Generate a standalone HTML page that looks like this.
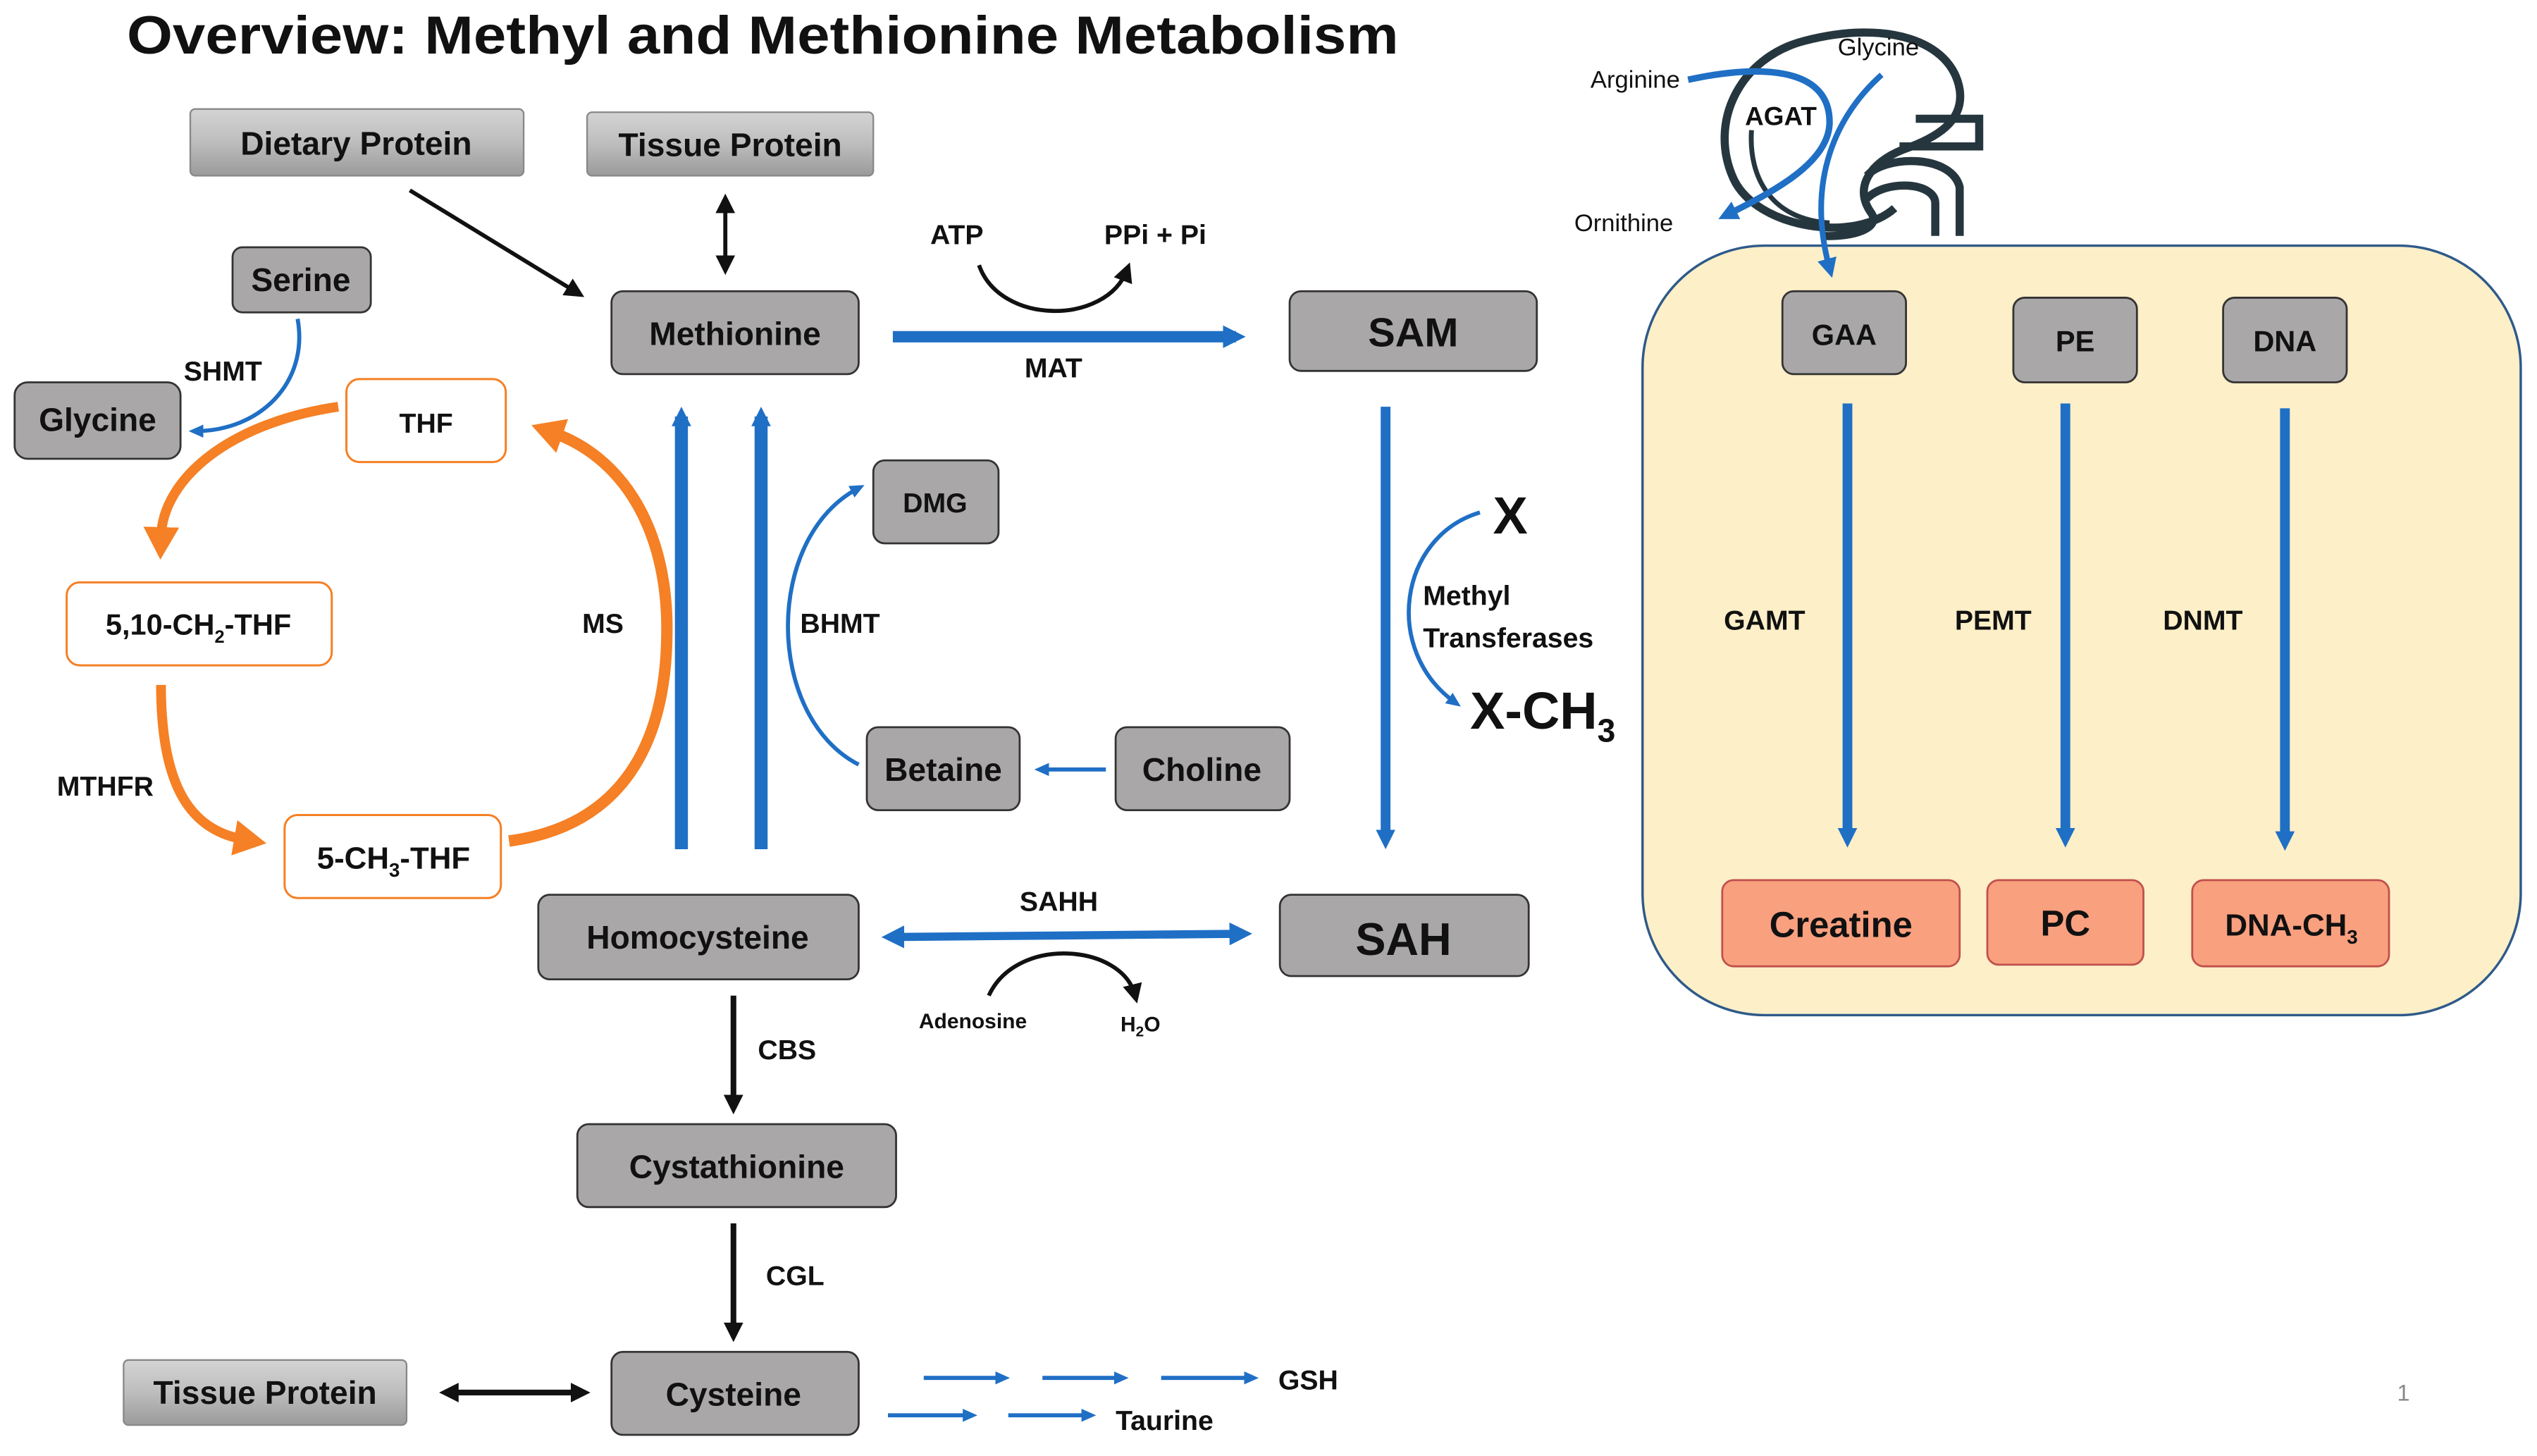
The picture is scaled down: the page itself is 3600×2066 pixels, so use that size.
<!DOCTYPE html>
<html><head><meta charset="utf-8"><style>
html,body{margin:0;padding:0;background:#fff}
svg{display:block}
text{font-family:"Liberation Sans",sans-serif;font-weight:bold;fill:#111}
</style></head><body>
<svg width="3600" height="2066" viewBox="0 0 1560 895" preserveAspectRatio="none" xmlns="http://www.w3.org/2000/svg">
<defs>
<linearGradient id="g" x1="0" y1="0" x2="0" y2="1"><stop offset="0" stop-color="#d4d4d4"/><stop offset="0.5" stop-color="#bdbdbd"/><stop offset="1" stop-color="#9a9a9a"/></linearGradient>
<marker id="bh" markerWidth="14" markerHeight="16" refX="8" refY="8" orient="auto-start-reverse" markerUnits="userSpaceOnUse"><path d="M0,1 L14,8 L0,15 Z" fill="#1f6fc5"/></marker>
<marker id="bhm" markerWidth="12" markerHeight="14" refX="6" refY="7" orient="auto-start-reverse" markerUnits="userSpaceOnUse"><path d="M0,1 L12,7 L0,13 Z" fill="#1f6fc5"/></marker>
<marker id="bhs" markerWidth="10" markerHeight="10" refX="5" refY="5" orient="auto" markerUnits="userSpaceOnUse"><path d="M0,1 L9,5 L0,9 Z" fill="#1f6fc5"/></marker>
<marker id="kh" markerWidth="12" markerHeight="12" refX="7" refY="6" orient="auto-start-reverse" markerUnits="userSpaceOnUse"><path d="M0,0 L12,6 L0,12 Z" fill="#111"/></marker>
<marker id="oh" markerWidth="20" markerHeight="22" refX="6" refY="11" orient="auto" markerUnits="userSpaceOnUse"><path d="M0,0 L20,11 L0,22 Z" fill="#f58025"/></marker>
</defs>

<text x="78" y="33" font-size="33" textLength="782" lengthAdjust="spacingAndGlyphs">Overview: Methyl and Methionine Metabolism</text>

<rect x="1010" y="151" width="540" height="473" rx="75" fill="#fdefc8" stroke="#2e5a8a" stroke-width="1.5"/>

<g fill="none" stroke="#26363e" stroke-width="5">
<path d="M1165,128 C1140,150 1080,140 1066,110 C1050,75 1070,35 1110,25 C1160,12 1200,25 1205,55 C1208,75 1190,85 1170,92 C1150,100 1140,115 1150,130 C1158,140 1140,146 1120,145"/>
<path d="M1168,90 L1217,90 L1217,73 L1178,73"/>
<path d="M1148,108 C1160,95 1200,95 1205,115 L1205,145"/>
<path d="M1148,122 C1160,110 1190,112 1190,125 L1190,145"/>
<path d="M1077,80 C1075,110 1090,135 1125,137" stroke-width="3"/>
</g>
<text x="978" y="54" font-size="15" style="font-weight:normal">Arginine</text>
<text x="1130" y="34" font-size="15" style="font-weight:normal">Glycine</text>
<text x="968" y="142" font-size="15" style="font-weight:normal">Ornithine</text>
<text x="1073" y="77" font-size="16">AGAT</text>
<path d="M1038,49 C1080,40 1125,40 1125,75 C1125,100 1090,118 1062,132" fill="none" stroke="#1f6fc5" stroke-width="4" marker-end="url(#bhm)"/>
<path d="M1157,46 C1130,70 1110,110 1125,165" fill="none" stroke="#1f6fc5" stroke-width="3.5" marker-end="url(#bhm)"/>

<g stroke="#333" stroke-width="1.2" fill="#a9a7a7">
<rect x="143" y="152" width="85" height="40" rx="6"/>
<rect x="9" y="235" width="102" height="47" rx="8"/>
<rect x="376" y="179" width="152" height="51" rx="7"/>
<rect x="793" y="179" width="152" height="49" rx="7"/>
<rect x="537" y="283" width="77" height="51" rx="7"/>
<rect x="533" y="447" width="94" height="51" rx="7"/>
<rect x="686" y="447" width="107" height="51" rx="7"/>
<rect x="331" y="550" width="197" height="52" rx="7"/>
<rect x="787" y="550" width="153" height="50" rx="7"/>
<rect x="355" y="691" width="196" height="51" rx="7"/>
<rect x="376" y="831" width="152" height="51" rx="7"/>
<rect x="1096" y="179" width="76" height="51" rx="7"/>
<rect x="1238" y="183" width="76" height="52" rx="7"/>
<rect x="1367" y="183" width="76" height="52" rx="7"/>
</g>
<g fill="url(#g)" stroke="#888" stroke-width="1">
<rect x="117" y="67" width="205" height="41" rx="3"/>
<rect x="361" y="69" width="176" height="39" rx="3"/>
<rect x="76" y="836" width="174" height="40" rx="3"/>
</g>
<g fill="#f9a07f" stroke="#c0504d" stroke-width="1.2">
<rect x="1059" y="541" width="146" height="53" rx="7"/>
<rect x="1222" y="541" width="96" height="52" rx="7"/>
<rect x="1348" y="541" width="121" height="53" rx="7"/>
</g>
<g fill="#fff" stroke="#f58025" stroke-width="1.3">
<rect x="213" y="233" width="98" height="51" rx="8"/>
<rect x="41" y="358" width="163" height="51" rx="8"/>
<rect x="175" y="501" width="133" height="51" rx="8"/>
</g>

<g text-anchor="middle" font-size="20">
<text x="219" y="95">Dietary Protein</text>
<text x="449" y="96">Tissue Protein</text>
<text x="163" y="863">Tissue Protein</text>
<text x="185" y="179">Serine</text>
<text x="60" y="265">Glycine</text>
<text x="452" y="212">Methionine</text>
<text x="869" y="213" font-size="25">SAM</text>
<text x="575" y="315" font-size="17">DMG</text>
<text x="580" y="480">Betaine</text>
<text x="739" y="480">Choline</text>
<text x="429" y="583">Homocysteine</text>
<text x="863" y="587" font-size="28">SAH</text>
<text x="453" y="724">Cystathionine</text>
<text x="451" y="864">Cysteine</text>
<text x="1134" y="212" font-size="18">GAA</text>
<text x="1276" y="216" font-size="18">PE</text>
<text x="1405" y="216" font-size="18">DNA</text>
<text x="1132" y="576" font-size="22">Creatine</text>
<text x="1270" y="575" font-size="22">PC</text>
<text x="1409" y="575" font-size="19">DNA-CH<tspan font-size="12" dy="5">3</tspan></text>
<text x="262" y="266" font-size="17">THF</text>
<text x="122" y="390" font-size="18">5,10-CH<tspan font-size="11" dy="5">2</tspan><tspan dy="-5">-THF</tspan></text>
<text x="242" y="534" font-size="19">5-CH<tspan font-size="12" dy="5">3</tspan><tspan dy="-5">-THF</tspan></text>
</g>

<g font-size="17">
<text x="113" y="234">SHMT</text>
<text x="358" y="389">MS</text>
<text x="35" y="489">MTHFR</text>
<text x="492" y="389">BHMT</text>
<text x="572" y="150">ATP</text>
<text x="679" y="150">PPi + Pi</text>
<text x="630" y="232">MAT</text>
<text x="627" y="560">SAHH</text>
<text x="466" y="651">CBS</text>
<text x="471" y="790">CGL</text>
<text x="875" y="372">Methyl</text>
<text x="875" y="398">Transferases</text>
<text x="1060" y="387">GAMT</text>
<text x="1202" y="387">PEMT</text>
<text x="1330" y="387">DNMT</text>
<text x="786" y="854">GSH</text>
<text x="686" y="879">Taurine</text>
<text x="565" y="632" font-size="13">Adenosine</text>
<text x="689" y="634" font-size="13">H<tspan font-size="9" dy="3">2</tspan><tspan dy="-3">O</tspan></text>
<text x="918" y="328" font-size="32">X</text>
<text x="904" y="448" font-size="32">X-CH<tspan font-size="20" dy="8">3</tspan></text>
<text x="1474" y="861" font-size="14" style="font-weight:normal;fill:#888">1</text>
</g>

<g stroke="#111" stroke-width="2.5" fill="none">
<line x1="252" y1="117" x2="355" y2="180" marker-end="url(#kh)"/>
<line x1="446" y1="124" x2="446" y2="164" marker-end="url(#kh)" marker-start="url(#kh)"/>
<line x1="451" y1="612" x2="451" y2="680" stroke-width="3.5" marker-end="url(#kh)"/>
<line x1="451" y1="752" x2="451" y2="820" stroke-width="3.5" marker-end="url(#kh)"/>
<line x1="275" y1="856" x2="358" y2="856" stroke-width="3.5" marker-end="url(#kh)" marker-start="url(#kh)"/>
<path d="M602,163 C615,200 680,200 693,166" marker-end="url(#kh)"/>
<path d="M608,612 C625,575 690,580 698,612" marker-end="url(#kh)"/>
</g>

<g stroke="#1f6fc5" fill="none">
<line x1="549" y1="207" x2="760" y2="207" stroke-width="7" marker-end="url(#bh)"/>
<line x1="852" y1="250" x2="852" y2="516" stroke-width="6" marker-end="url(#bhm)"/>
<line x1="419" y1="522" x2="419" y2="256" stroke-width="8" marker-end="url(#bhm)"/>
<line x1="468" y1="522" x2="468" y2="256" stroke-width="8" marker-end="url(#bhm)"/>
<line x1="548" y1="576" x2="764" y2="574" stroke-width="5" marker-end="url(#bh)" marker-start="url(#bh)"/>
<line x1="1136" y1="248" x2="1136" y2="515" stroke-width="6" marker-end="url(#bhm)"/>
<line x1="1270" y1="248" x2="1270" y2="515" stroke-width="6" marker-end="url(#bhm)"/>
<line x1="1405" y1="251" x2="1405" y2="517" stroke-width="6" marker-end="url(#bhm)"/>
<path d="M528,470 C470,440 470,330 528,300" stroke-width="2.5" marker-end="url(#bhs)"/>
<line x1="680" y1="473" x2="640" y2="473" stroke-width="2.5" marker-end="url(#bhs)"/>
<path d="M183,196 C190,235 160,265 120,265" stroke-width="2.5" marker-end="url(#bhs)"/>
<path d="M910,315 C860,330 850,400 895,432" stroke-width="2.5" marker-end="url(#bhs)"/>
<line x1="568" y1="847" x2="617" y2="847" stroke-width="2.5" marker-end="url(#bhs)"/>
<line x1="641" y1="847" x2="690" y2="847" stroke-width="2.5" marker-end="url(#bhs)"/>
<line x1="714" y1="847" x2="770" y2="847" stroke-width="2.5" marker-end="url(#bhs)"/>
<line x1="546" y1="870" x2="597" y2="870" stroke-width="2.5" marker-end="url(#bhs)"/>
<line x1="620" y1="870" x2="670" y2="870" stroke-width="2.5" marker-end="url(#bhs)"/>
</g>

<g fill="none" stroke="#f58025">
<path d="M208,250 C140,260 100,295 99,330" stroke-width="6" marker-end="url(#oh)"/>
<path d="M99,421 C99,480 115,510 150,516" stroke-width="6" marker-end="url(#oh)"/>
<path d="M313,517 C380,508 412,460 410,380 C408,320 380,280 340,266" stroke-width="7" marker-end="url(#oh)"/>
</g>
</svg>
</body></html>
